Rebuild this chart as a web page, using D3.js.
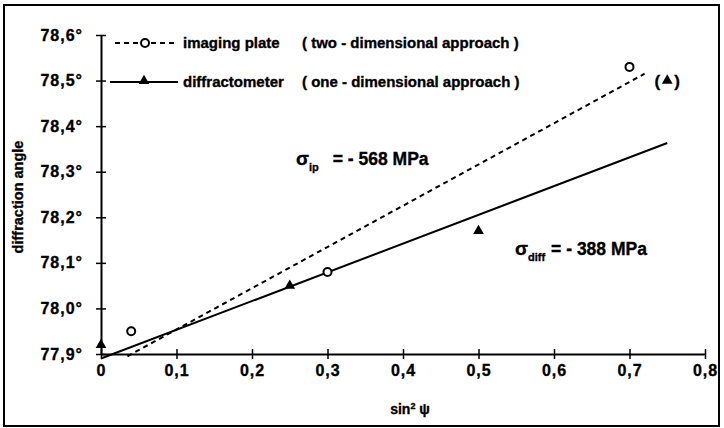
<!DOCTYPE html>
<html>
<head>
<meta charset="utf-8">
<script src="https://cdn.jsdelivr.net/npm/d3@7"></script>
<style>
  html, body { margin: 0; padding: 0; background: #fff; }
  svg { display: block; }
  text { font-family: "Liberation Sans", Arial, sans-serif; font-weight: bold; fill: #000; stroke: #000; stroke-width: 0.35px; }
</style>
</head>
<body>
<svg id="chart" width="724" height="428"></svg>
<script>
// ---- data ----
const ipX = [0.04, 0.3, 0.7];
const ipY = [77.95, 78.08, 78.53];
const diffX = [0, 0.25, 0.5, 0.75];
const diffY = [77.92, 78.05, 78.17, 78.50];
const ipFitX = [0.035, 0.72];
const ipFitY = [77.895, 78.515];
const diffFitX = [0, 0.75];
const diffFitY = [77.89, 78.363];
const xTicks = [0, 0.1, 0.2, 0.3, 0.4, 0.5, 0.6, 0.7, 0.8];
const xTickLabels = ["0", "0,1", "0,2", "0,3", "0,4", "0,5", "0,6", "0,7", "0,8"];
const yTicks = [77.9, 78.0, 78.1, 78.2, 78.3, 78.4, 78.5, 78.6];
const yTickLabels = ["77,9°", "78,0°", "78,1°", "78,2°", "78,3°", "78,4°", "78,5°", "78,6°"];
const seriesNames = ["imaging plate", "diffractometer"];
const seriesNotes = ["( two - dimensional approach )", "( one - dimensional approach )"];

// ---- layout ----
const svg = d3.select("#chart");
const x = d3.scaleLinear().domain([0, 0.8]).range([101, 705]);
const y = d3.scaleLinear().domain([77.9, 78.6]).range([354, 35]);
const FS = 15;

function styleText(sel, size, ls) {
  sel.style("font-family", "Liberation Sans, Arial, sans-serif").style("font-weight", "bold")
    .style("font-size", size + "px").style("letter-spacing", (ls || 0) + "px")
    .attr("fill", "#000").attr("stroke", "#000").attr("stroke-width", 0.35);
}

// frame
svg.append("rect").attr("x", 4).attr("y", 5).attr("width", 715).attr("height", 421)
  .attr("fill", "none").attr("stroke", "#000").attr("stroke-width", 2);

// y axis
const yAxis = d3.axisLeft(y).tickValues(yTicks)
  .tickFormat((d, i) => yTickLabels[i]).tickSizeInner(-5).tickSizeOuter(0).tickPadding(18);
const gy = svg.append("g").attr("transform", `translate(${x(0)},0)`).call(yAxis);
gy.selectAll(".tick line").clone().attr("x2", -5);
gy.selectAll(".tick line").attr("stroke-width", 1.5);
gy.select(".domain").attr("stroke-width", 2);
styleText(gy.selectAll("text"), 16, 1);

// x axis
const xAxis = d3.axisBottom(x).tickValues(xTicks)
  .tickFormat((d, i) => xTickLabels[i]).tickSizeInner(5).tickSizeOuter(0).tickPadding(6);
const gx = svg.append("g").attr("transform", `translate(0,${y(77.9)})`).call(xAxis);
gx.selectAll(".tick line").clone().attr("y2", -5);
gx.selectAll(".tick line").attr("stroke-width", 1.5);
gx.select(".domain").attr("stroke-width", 2);
styleText(gx.selectAll("text"), 16, 1);

// axis titles
svg.append("text").attr("transform", "translate(23,197) rotate(-90)")
  .attr("text-anchor", "middle").style("font-size", "14.5px").text("diffraction angle");
const xt = svg.append("text").attr("x", 410).attr("y", 414).attr("text-anchor", "middle")
  .style("font-size", "14px");
xt.append("tspan").text("sin");
xt.append("tspan").attr("dy", -5).style("font-size", "9px").text("2");
xt.append("tspan").attr("dy", 5).text(" ψ");

// fit lines
const line = d3.line().x(d => x(d[0])).y(d => y(d[1]));
svg.append("path").datum(ipFitX.map((v, i) => [v, ipFitY[i]]))
  .attr("d", line).attr("fill", "none").attr("stroke", "#000")
  .attr("stroke-width", 2).attr("stroke-dasharray", "5,4");
svg.append("path").datum(diffFitX.map((v, i) => [v, diffFitY[i]]))
  .attr("d", line).attr("fill", "none").attr("stroke", "#000").attr("stroke-width", 2);

// markers
const tri = d3.symbol().type(d3.symbolTriangle).size(50);
svg.selectAll(".ip").data(ipX.map((v, i) => [v, ipY[i]])).join("circle")
  .attr("cx", d => x(d[0])).attr("cy", d => y(d[1])).attr("r", 4)
  .attr("fill", "#fff").attr("stroke", "#000").attr("stroke-width", 2);
svg.selectAll(".df").data(diffX.map((v, i) => [v, diffY[i]])).join("path")
  .attr("d", tri).attr("transform", d => `translate(${x(d[0])},${y(d[1])})`).attr("fill", "#000");
// parentheses around last diffractometer point
const lastD = [diffX[3], diffY[3]];
svg.append("text").attr("x", x(lastD[0]) - 7).attr("y", y(lastD[1]) + 6).attr("text-anchor", "end")
  .style("font-size", "17px").text("(");
svg.append("text").attr("x", x(lastD[0]) + 7).attr("y", y(lastD[1]) + 6).attr("text-anchor", "start")
  .style("font-size", "17px").text(")");

// legend
const legY = [43, 82];
svg.append("line").attr("x1", 115).attr("x2", 178).attr("y1", legY[0]).attr("y2", legY[0])
  .attr("stroke", "#000").attr("stroke-width", 2).attr("stroke-dasharray", "5,4");
svg.append("circle").attr("cx", 145).attr("cy", legY[0]).attr("r", 4)
  .attr("fill", "#fff").attr("stroke", "#000").attr("stroke-width", 2);
svg.append("line").attr("x1", 110).attr("x2", 178).attr("y1", legY[1]).attr("y2", legY[1])
  .attr("stroke", "#000").attr("stroke-width", 2);
svg.append("path").attr("d", tri).attr("transform", `translate(144,${legY[1] - 1})`).attr("fill", "#000");
seriesNames.forEach((n, i) => {
  svg.append("text").attr("x", 183).attr("y", legY[i] + 5).style("font-size", FS + "px").text(n);
  svg.append("text").attr("x", 302).attr("y", legY[i] + 5).style("font-size", FS + "px").text(seriesNotes[i]);
});

// annotations
function sigma(xp, yp, sub, rest, subGap) {
  const t = svg.append("text").attr("x", xp).attr("y", yp).style("font-size", "17.5px");
  t.append("tspan").style("font-size", "19px").text("σ");
  t.append("tspan").attr("dy", 6).style("font-size", "11px").text(sub);
  t.append("tspan").attr("dy", -6).attr("dx", subGap).text(rest);
}
sigma(296, 165, "ip", "= - 568 MPa", 14);
sigma(515, 255, "diff", "= - 388 MPa", 6);
</script>
</body>
</html>
